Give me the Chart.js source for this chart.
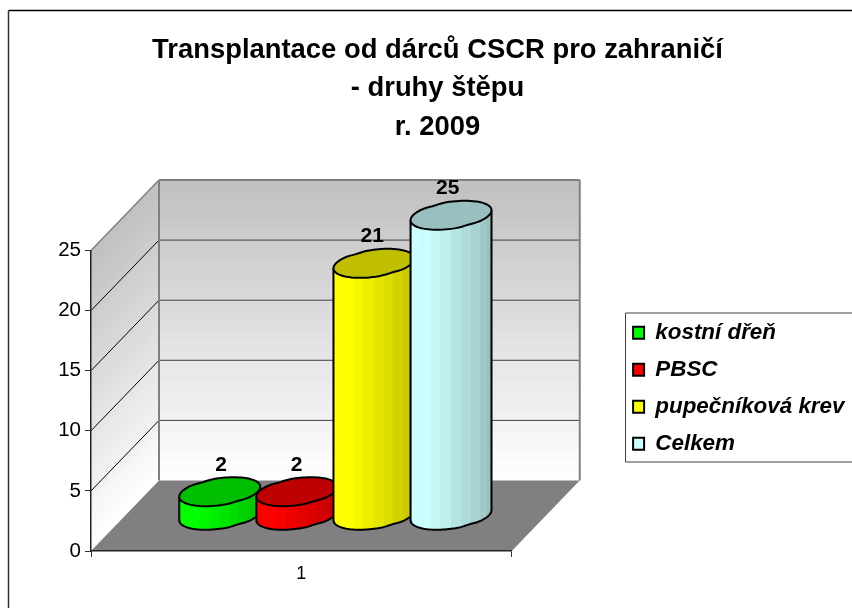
<!DOCTYPE html>
<html>
<head>
<meta charset="utf-8">
<style>
  html, body { margin: 0; padding: 0; background: #fff; }
  canvas { display: block; }
</style>
<script src="https://cdn.jsdelivr.net/npm/chart.js@4"></script>
</head>
<body>
<canvas id="graft" width="852" height="608"></canvas>
<script>
// data
const categories = ['1'];
const seriesNames = ['kostní dřeň', 'PBSC', 'pupečníková krev', 'Celkem'];
const seriesValues = [[2], [2], [21], [25]];
const seriesColors = ['#00ff00', '#ff0000', '#ffff00', '#ccffff'];
const yTicks = [0, 5, 10, 15, 20, 25];
const titleLines = ['Transplantace od dárců CSCR pro zahraničí', '- druhy štěpu', 'r. 2009'];

// depth of the 3D box, in pixels
const depthX = 68;
const depthY = -70.5;

function shade(hex, f) {
    const r = parseInt(hex.slice(1, 3), 16) * f;
    const g = parseInt(hex.slice(3, 5), 16) * f;
    const b = parseInt(hex.slice(5, 7), 16) * f;
    return `rgb(${Math.round(r)},${Math.round(g)},${Math.round(b)})`;
}

function quad(ctx, pts, fill) {
    ctx.beginPath();
    ctx.moveTo(pts[0][0], pts[0][1]);
    for (let i = 1; i < pts.length; i++) ctx.lineTo(pts[i][0], pts[i][1]);
    ctx.closePath();
    ctx.fillStyle = fill;
    ctx.fill();
}

function line(ctx, x1, y1, x2, y2, color, width) {
    ctx.beginPath();
    ctx.moveTo(x1, y1);
    ctx.lineTo(x2, y2);
    ctx.strokeStyle = color;
    ctx.lineWidth = width;
    ctx.stroke();
}

// walls and floor of the box, everything hung on the y scale
function drawBox(chart) {
    const ctx = chart.ctx;
    const y = chart.scales.y;
    const a = chart.chartArea;
    const top = y.max;

    ctx.save();
    ctx.fillStyle = '#ffffff';
    ctx.fillRect(0, 0, chart.width, chart.height);

    // outer frame
    line(ctx, 8.5, 10.5, chart.width, 10.5, '#000', 1.5);
    line(ctx, 8.5, 10.5, 8.5, chart.height, '#333', 1.5);

    // gradient bands, grey at the top, white at the bottom
    const bands = 30;
    for (let i = 0; i < bands; i++) {
        const y1 = y.getPixelForValue(top * i / bands);
        const y2 = y.getPixelForValue(top * (i + 1) / bands);
        const g = Math.round(255 - 63 * (i + 0.5) / bands);
        const c = `rgb(${g},${g},${g})`;
        quad(ctx, [[a.left + depthX, y1 + depthY + 0.5], [a.right + depthX, y1 + depthY + 0.5],
                   [a.right + depthX, y2 + depthY], [a.left + depthX, y2 + depthY]], c);
        quad(ctx, [[a.left, y1 + 0.5], [a.left + depthX, y1 + depthY + 0.5],
                   [a.left + depthX, y2 + depthY], [a.left, y2]], c);
    }

    // floor
    quad(ctx, [[a.left, a.bottom], [a.right, a.bottom],
               [a.right + depthX, a.bottom + depthY], [a.left + depthX, a.bottom + depthY]], '#808080');

    // gridlines on both walls
    yTicks.forEach(function(v) {
        if (v === 0 || v === top) return;
        const p = y.getPixelForValue(v);
        line(ctx, a.left, p, a.left + depthX, p + depthY, '#000', 1);
        line(ctx, a.left + depthX, p + depthY, a.right + depthX, p + depthY, '#404040', 1);
    });

    // wall edges
    const backTop = a.top + depthY;
    const backBottom = a.bottom + depthY;
    line(ctx, a.left, a.top, a.left + depthX, backTop, '#808080', 1.5);
    line(ctx, a.left + depthX, backTop, a.right + depthX, backTop, '#808080', 2);
    line(ctx, a.left + depthX, backTop, a.left + depthX, backBottom, '#808080', 2);
    line(ctx, a.right + depthX, backTop, a.right + depthX, backBottom, '#808080', 2);
    ctx.restore();
}

// one cylinder from a bar element: base and top come from the scale
function drawCylinder(ctx, bar, color) {
    const cx = bar.x + depthX / 2;
    const topY = bar.y + depthY / 2;
    const baseY = bar.base + depthY / 2;
    const a = bar.width / 2 * 0.985;
    const dx = 14;
    const dy = 14.5;
    const t0 = Math.atan2(dx, a);

    // sheared circle, dented upper left and lower right like the original outline
    const pt = function(t, yc) {
        const s = Math.sin(t - 2.4);
        const w = 1 - 0.05 * Math.exp(-s * s / 0.04);
        return [cx + (a * Math.cos(t) + dx * Math.sin(t)) * w, yc - dy * Math.sin(t) * w];
    };

    // side wall in vertical strips, as the original shades it
    const strips = 12;
    const under = [];
    for (let i = 0; i <= strips; i++) under.push(pt(t0 + Math.PI + Math.PI * i / strips, topY));
    for (let i = strips; i >= 0; i--) under.push(pt(t0 + Math.PI + Math.PI * i / strips, baseY));
    quad(ctx, under, shade(color, 0.9));
    for (let i = 0; i < strips; i++) {
        const t1 = t0 + Math.PI + Math.PI * i / strips;
        const t2 = t0 + Math.PI + Math.PI * (i + 1) / strips;
        const u = (i + 0.5) / strips;
        let f = u < 0.3 ? 1 : 1 - 0.3 * (u - 0.3) / 0.7;
        if (i === 0) f = 0.94;
        quad(ctx, [pt(t1, topY), pt(t2, topY), pt(t2, baseY), pt(t1, baseY)], shade(color, f));
    }

    // outline of base and sides
    ctx.beginPath();
    for (let i = 0; i <= 60; i++) {
        const p = pt(t0 + Math.PI + Math.PI * i / 60, baseY);
        if (i === 0) ctx.moveTo(p[0], p[1]); else ctx.lineTo(p[0], p[1]);
    }
    const rt = pt(t0, topY);
    const lt = pt(t0 + Math.PI, topY);
    ctx.lineTo(rt[0], rt[1]);
    ctx.moveTo(lt[0], lt[1]);
    const lb = pt(t0 + Math.PI, baseY);
    ctx.lineTo(lb[0], lb[1]);
    ctx.strokeStyle = '#000';
    ctx.lineWidth = 2;
    ctx.stroke();

    // top cap
    ctx.beginPath();
    for (let i = 0; i <= 80; i++) {
        const p = pt(Math.PI * 2 * i / 80, topY);
        if (i === 0) ctx.moveTo(p[0], p[1]); else ctx.lineTo(p[0], p[1]);
    }
    ctx.closePath();
    ctx.fillStyle = shade(color, 0.75);
    ctx.fill();
    ctx.stroke();
}

const box3d = {
    id: 'box3d',
    afterLayout(chart) {
        // title centre in the reference is a little right of the canvas centre
        chart.titleBlock.left = 0;
        chart.titleBlock.right = 875;
        // legend sits in its own frame, clear of the plot
        const lg = chart.legend;
        const h = lg.bottom - lg.top;
        lg.left = 618.5;
        lg.right = chart.width;
        lg.top = 307;
        lg.bottom = 307 + h;
    },
    beforeDraw(chart) {
        drawBox(chart);
    },
    beforeDatasetsDraw(chart) {
        const ctx = chart.ctx;
        ctx.save();

        // legend frame, open on the right where the picture is cut
        ctx.strokeStyle = '#404040';
        ctx.lineWidth = 1;
        ctx.beginPath();
        ctx.moveTo(chart.width, 313);
        ctx.lineTo(625.5, 313);
        ctx.lineTo(625.5, 462);
        ctx.lineTo(chart.width, 462);
        ctx.stroke();

        ctx.lineJoin = 'round';
        chart.data.datasets.forEach(function(ds, i) {
            drawCylinder(ctx, chart.getDatasetMeta(i).data[0], ds.backgroundColor);
        });
        ctx.restore();
    },
    beforeDatasetDraw() {
        return false; // the cylinders above replace the flat bars
    },
    afterDatasetsDraw(chart) {
        const ctx = chart.ctx;
        const mid = (chart.chartArea.left + chart.chartArea.right + depthX) / 2;
        ctx.save();
        ctx.font = 'bold 21px "Liberation Sans"';
        ctx.fillStyle = '#000';
        ctx.textAlign = 'center';
        ctx.textBaseline = 'middle';
        chart.data.datasets.forEach(function(ds, i) {
            const bar = chart.getDatasetMeta(i).data[0];
            const x = bar.x + depthX / 2;
            ctx.fillText(ds.data[0], mid + (x - mid) * 0.98 - 1, bar.y + depthY / 2 - 27);
        });
        ctx.restore();
    }
};

const datasets = seriesNames.map(function(name, i) {
    return {
        label: name,
        data: seriesValues[i],
        backgroundColor: seriesColors[i],
        borderColor: '#000000',
        borderWidth: 2
    };
});

new Chart(document.getElementById('graft'), {
    type: 'bar',
    data: { labels: categories, datasets: datasets },
    plugins: [box3d],
    options: {
        responsive: false,
        animation: false,
        categoryPercentage: 0.733,
        barPercentage: 1,
        layout: { padding: { left: 10, top: 31, right: 173, bottom: 4 } },
        scales: {
            x: {
                grid: { drawOnChartArea: false, drawTicks: true, tickLength: 6, color: '#333', offset: true },
                border: { color: '#222', width: 1.5 },
                ticks: { font: { family: '"Liberation Sans"', size: 18 }, color: '#000', padding: 6 },
                afterFit(s) { s.height = 53; }
            },
            y: {
                min: 0,
                max: 25,
                afterBuildTicks(s) { s.ticks = yTicks.map(function(v) { return { value: v }; }); },
                grid: { drawOnChartArea: false, drawTicks: true, tickLength: 6, color: '#333' },
                border: { color: '#222', width: 1.5 },
                ticks: { font: { family: '"Liberation Sans"', size: 20.5 }, color: '#000', padding: 4 },
                afterFit(s) { s.width = 81; }
            }
        },
        plugins: {
            title: {
                display: true,
                text: titleLines,
                color: '#000',
                font: { family: '"Liberation Sans"', size: 27.4, weight: 'bold', lineHeight: 1.405 },
                padding: { top: 0, bottom: 104 }
            },
            legend: {
                position: 'right',
                align: 'start',
                labels: {
                    boxWidth: 11,
                    boxHeight: 12,
                    padding: 14.6,
                    color: '#000',
                    font: { family: '"Liberation Sans"', size: 22.4, weight: 'bold', style: 'italic' }
                }
            },
            tooltip: { enabled: false }
        }
    }
});
</script>
</body>
</html>
